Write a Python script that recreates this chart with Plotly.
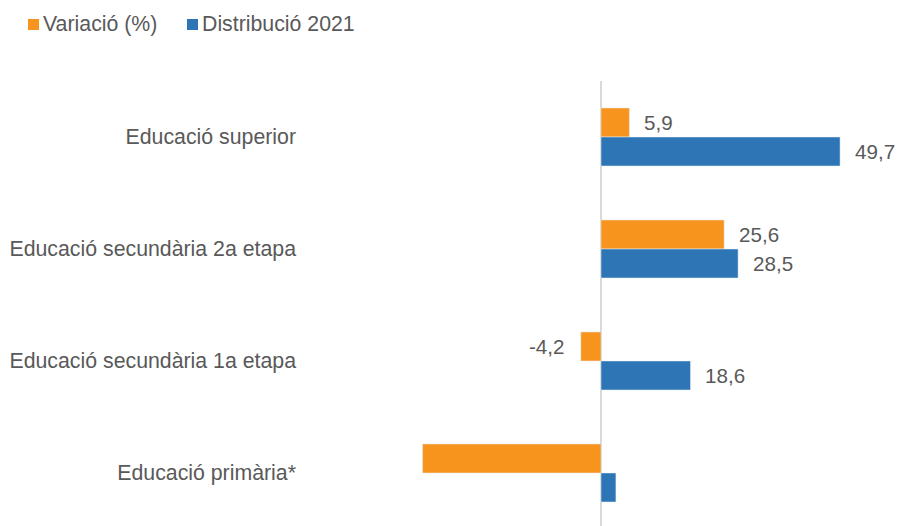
import plotly.graph_objects as go

categories = ["Educació superior", "Educació secundària 2a etapa",
              "Educació secundària 1a etapa", "Educació primària*"]
variacio = [5.9, 25.6, -4.2, -37.1]
distribucio = [49.7, 28.5, 18.6, 3.1]
show_label = [True, True, True, False]
series_names = ["Variació (%)", "Distribució 2021"]

ORANGE = "#F7941D"
BLUE = "#2E75B6"
TEXT = "#595959"
FONT = "Liberation Sans, Arial, sans-serif"
FS = 21.3
FS_LBL = 20.6

W, H = 898, 526
ML, MR, MT, MB = 297, 10, 81, 0
PW, PH = W - ML - MR, H - MT - MB
ZERO_PX = 601
PX_PER_UNIT = 4.81
xmin = -(ZERO_PX - ML) / PX_PER_UNIT
xmax = (W - MR - ZERO_PX) / PX_PER_UNIT

fig = go.Figure()
fig.add_trace(go.Bar(y=categories, x=variacio, orientation="h", name=series_names[0],
                     marker=dict(color=ORANGE), showlegend=False))
fig.add_trace(go.Bar(y=categories, x=distribucio, orientation="h", name=series_names[1],
                     marker=dict(color=BLUE), showlegend=False))

def fmt(v):
    return f"{v:.1f}".replace(".", ",")

half = 14.5
for cat, v, d, show in zip(categories, variacio, distribucio, show_label):
    if not show:
        continue
    for val, ys in ((v, half), (d, -half)):
        fig.add_annotation(x=val, y=cat, text=fmt(val), showarrow=False,
                           xanchor="left" if val >= 0 else "right",
                           xshift=13 if val >= 0 else -14, yshift=ys,
                           font=dict(family=FONT, size=FS_LBL, color=TEXT))

# legend (custom, to match spacing)
def px_to_paper_x(px):
    return (px - ML) / PW

def px_to_paper_y(py):
    return (H - MB - py) / PH

legend_items = [(28, ORANGE, series_names[0]), (187, BLUE, series_names[1])]
for x0, col, name in legend_items:
    fig.add_shape(type="rect", xref="paper", yref="paper",
                  x0=px_to_paper_x(x0), x1=px_to_paper_x(x0 + 11),
                  y0=px_to_paper_y(30), y1=px_to_paper_y(19),
                  fillcolor=col, line=dict(width=0))
    fig.add_annotation(xref="paper", yref="paper", x=px_to_paper_x(x0 + 13),
                       y=px_to_paper_y(24), text=name, showarrow=False,
                       xanchor="left", yanchor="middle",
                       font=dict(family=FONT, size=FS, color=TEXT))

fig.update_layout(
    width=W, height=H,
    margin=dict(l=ML, r=MR, t=MT, b=MB),
    plot_bgcolor="white", paper_bgcolor="white",
    barmode="group", bargap=0.482, bargroupgap=0,
    font=dict(family=FONT, size=FS, color=TEXT),
    showlegend=False,
)
fig.update_xaxes(range=[xmin, xmax], visible=True, showticklabels=False,
                 showgrid=False, zeroline=True, zerolinecolor="#D9D9D9",
                 zerolinewidth=2, showline=False, ticks="")
fig.update_yaxes(range=[-0.5 + PH / 112, -0.5], showgrid=False, zeroline=False,
                 ticks="", showline=False,
                 tickfont=dict(family=FONT, size=FS, color=TEXT))

fig.write_html("out.html", config={"displayModeBar": False},
               post_script="document.body.style.margin='0';document.body.style.overflow='hidden';")
